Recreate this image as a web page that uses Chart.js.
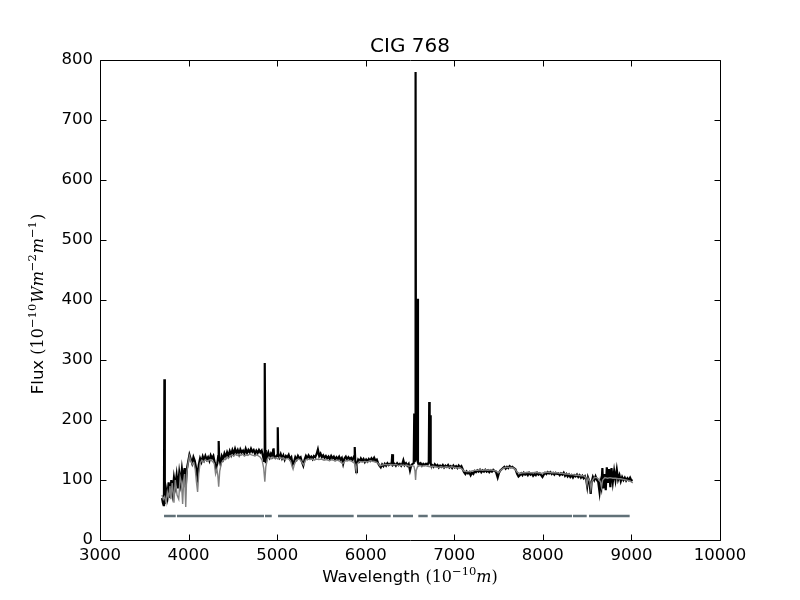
<!DOCTYPE html>
<html>
<head>
<meta charset="utf-8">
<title>CIG 768</title>
<script src="https://cdn.jsdelivr.net/npm/chart.js@4.4.0/dist/chart.umd.min.js"></script>
<style>
  html, body { margin: 0; padding: 0; background: #fff; }
  canvas { display: block; }
</style>
</head>
<body>
<canvas id="canvas" width="800" height="600"></canvas>
<script>
// observed spectrum (black)
const obsWave = [
  3700, 3710, 3718, 3722, 3727, 3732, 3745, 3760, 3775, 3790, 3805, 3820, 3835, 3850, 3865, 3880,
  3895, 3910, 3925, 3940, 3955, 3968, 3980, 3995, 4010, 4025, 4040, 4055, 4070, 4085, 4100, 4115,
  4130, 4145, 4160, 4175, 4190, 4205, 4220, 4235, 4250, 4265, 4280, 4295, 4310, 4325, 4335, 4340,
  4345, 4360, 4375, 4390, 4405, 4420, 4435, 4450, 4465, 4480, 4495, 4510, 4525, 4540, 4555, 4570,
  4585, 4600, 4615, 4630, 4645, 4660, 4675, 4690, 4705, 4720, 4735, 4750, 4765, 4780, 4795, 4810,
  4825, 4840, 4852, 4858, 4862, 4866, 4872, 4885, 4900, 4915, 4930, 4945, 4955, 4960, 4965, 4980,
  4995, 5002, 5007, 5012, 5025, 5040, 5055, 5070, 5085, 5100, 5115, 5130, 5145, 5160, 5175, 5190,
  5205, 5220, 5235, 5250, 5265, 5280, 5295, 5310, 5325, 5340, 5355, 5370, 5385, 5400, 5415, 5430,
  5445, 5460, 5475, 5490, 5505, 5520, 5535, 5550, 5565, 5580, 5595, 5610, 5625, 5640, 5655, 5670,
  5685, 5700, 5715, 5730, 5745, 5760, 5775, 5790, 5805, 5820, 5835, 5850, 5870, 5876, 5882, 5892,
  5900, 5915, 5930, 5945, 5960, 5975, 5990, 6005, 6020, 6035, 6050, 6065, 6080, 6095, 6110, 6125,
  6140, 6155, 6170, 6185, 6200, 6215, 6230, 6245, 6260, 6275, 6292, 6300, 6308, 6325, 6340, 6355,
  6370, 6385, 6400, 6415, 6425, 6440, 6455, 6470, 6485, 6500, 6515, 6530, 6542, 6548, 6553, 6558,
  6563, 6568, 6578, 6584, 6590, 6605, 6620, 6635, 6650, 6665, 6680, 6700, 6712, 6717, 6722, 6726,
  6731, 6736, 6750, 6765, 6780, 6795, 6810, 6825, 6840, 6855, 6870, 6885, 6900, 6915, 6930, 6945,
  6960, 6975, 6990, 7005, 7020, 7035, 7050, 7065, 7080, 7095, 7110, 7125, 7140, 7155, 7170, 7185,
  7200, 7215, 7230, 7245, 7260, 7275, 7290, 7305, 7320, 7335, 7350, 7365, 7380, 7395, 7410, 7425,
  7440, 7455, 7470, 7490, 7505, 7520, 7535, 7550, 7565, 7580, 7595, 7610, 7625, 7640, 7655, 7670,
  7690, 7710, 7725, 7740, 7755, 7770, 7785, 7800, 7815, 7830, 7845, 7860, 7875, 7890, 7905, 7920,
  7935, 7950, 7965, 7980, 7995, 8010, 8025, 8040, 8055, 8070, 8085, 8100, 8115, 8130, 8145, 8160,
  8175, 8190, 8205, 8220, 8235, 8250, 8265, 8280, 8295, 8310, 8325, 8340, 8355, 8370, 8385, 8400,
  8415, 8430, 8445, 8460, 8475, 8490, 8500, 8510, 8525, 8540, 8550, 8565, 8580, 8595, 8610, 8625,
  8640, 8650, 8660, 8672, 8682, 8695, 8710, 8722, 8735, 8748, 8762, 8775, 8790, 8805, 8820, 8835,
  8850, 8865, 8880, 8895, 8910, 8925, 8940, 8955, 8970, 8985, 9000, 9010
];
const obsFlux = [
  70, 62, 58, 65, 268, 60, 85, 72, 96, 70, 100, 80, 104, 90, 108, 86,
  112, 95, 118, 100, 120, 88, 118, 130, 142, 135, 128, 138, 132, 120, 105, 125,
  136, 130, 139, 133, 140, 134, 138, 132, 141, 136, 140, 129, 120, 128, 140, 165,
  138, 127, 140, 135, 144, 138, 146, 140, 148, 142, 150, 144, 152, 145, 150, 143,
  151, 146, 149, 144, 152, 145, 150, 146, 152, 147, 150, 144, 149, 145, 150, 146,
  149, 140, 132, 150, 295, 150, 128, 140, 146, 138, 144, 140, 150, 153, 141, 137,
  140, 142, 188, 140, 137, 143, 136, 141, 134, 140, 138, 142, 135, 138, 126, 130,
  138, 134, 140, 136, 138, 130, 124, 134, 140, 136, 141, 137, 139, 135, 140, 138,
  143, 151, 140, 144, 138, 141, 137, 140, 136, 139, 135, 140, 136, 139, 134, 138,
  135, 139, 134, 137, 127, 136, 139, 134, 138, 135, 137, 133, 140, 155, 132, 113,
  126, 134, 131, 136, 132, 135, 130, 134, 131, 135, 132, 136, 133, 137, 132, 134,
  128, 124, 121, 126, 123, 127, 124, 128, 125, 127, 126, 143, 125, 127, 124, 128,
  125, 127, 124, 128, 133, 125, 128, 124, 127, 116, 125, 127, 128, 211, 130, 135,
  780, 140, 135, 402, 130, 126, 128, 124, 127, 125, 127, 126, 130, 230, 132, 130,
  208, 127, 125, 122, 126, 123, 125, 121, 124, 122, 125, 121, 124, 122, 125, 121,
  123, 120, 124, 121, 123, 120, 124, 121, 123, 118, 113, 110, 114, 111, 113, 108,
  112, 110, 115, 113, 116, 114, 117, 113, 116, 114, 117, 114, 116, 113, 116, 114,
  117, 115, 114, 104, 112, 116, 118, 120, 122, 119, 122, 120, 123, 121, 122, 120,
  118, 110, 106, 108, 111, 108, 112, 109, 111, 108, 112, 109, 111, 107, 110, 108,
  112, 109, 111, 108, 105, 109, 112, 110, 113, 111, 113, 110, 112, 109, 112, 110,
  111, 108, 111, 109, 112, 107, 110, 106, 109, 105, 108, 104, 108, 106, 109, 105,
  108, 104, 107, 103, 106, 100, 90, 104, 98, 77, 96, 105, 100, 106, 100, 97,
  80, 95, 88, 120, 86, 110, 83, 121, 95, 118, 88, 120, 97, 115, 100, 117,
  101, 108, 98, 105, 100, 104, 99, 103, 100, 104, 99, 101
];

// fitted model (grey)
const modelWave = [
  3700, 3715, 3730, 3745, 3760, 3775, 3790, 3800, 3815, 3835, 3850, 3870, 3889, 3905, 3920, 3933,
  3945, 3955, 3968, 3980, 3995, 4010, 4025, 4045, 4060, 4075, 4090, 4102, 4115, 4130, 4150, 4170,
  4190, 4210, 4230, 4250, 4270, 4290, 4305, 4320, 4330, 4340, 4352, 4370, 4390, 4410, 4430, 4450,
  4470, 4490, 4510, 4530, 4550, 4570, 4590, 4610, 4630, 4650, 4670, 4690, 4710, 4730, 4750, 4770,
  4790, 4810, 4830, 4848, 4861, 4872, 4890, 4910, 4930, 4950, 4970, 4990, 5010, 5030, 5050, 5070,
  5090, 5110, 5130, 5150, 5170, 5180, 5195, 5215, 5240, 5265, 5285, 5300, 5320, 5345, 5370, 5395,
  5420, 5445, 5470, 5500, 5530, 5560, 5590, 5620, 5650, 5680, 5710, 5740, 5770, 5800, 5830, 5860,
  5880, 5893, 5905, 5930, 5960, 5990, 6020, 6050, 6080, 6110, 6140, 6160, 6190, 6220, 6250, 6280,
  6310, 6340, 6370, 6400, 6430, 6460, 6490, 6520, 6545, 6556, 6563, 6570, 6585, 6610, 6640, 6670,
  6700, 6730, 6760, 6790, 6820, 6850, 6880, 6910, 6940, 6970, 7000, 7030, 7060, 7090, 7110, 7140,
  7170, 7200, 7230, 7260, 7290, 7320, 7350, 7380, 7410, 7440, 7470, 7500, 7530, 7560, 7590, 7620,
  7650, 7680, 7710, 7740, 7770, 7800, 7830, 7860, 7890, 7920, 7950, 7980, 8010, 8040, 8070, 8100,
  8130, 8160, 8190, 8220, 8250, 8280, 8310, 8340, 8370, 8400, 8430, 8460, 8485, 8498, 8510, 8530,
  8542, 8555, 8580, 8610, 8635, 8650, 8662, 8675, 8700, 8730, 8760, 8790, 8820, 8850, 8880, 8910,
  8940, 8970, 9000, 9015
];
const modelFlux = [
  75, 68, 72, 62, 80, 70, 90, 68, 95, 62, 100, 75, 68, 105, 95, 60,
  100, 110, 55, 112, 128, 140, 132, 126, 128, 118, 95, 80, 110, 128, 133, 130,
  134, 131, 133, 134, 131, 128, 110, 118, 108, 89, 115, 128, 132, 135, 138, 136,
  140, 142, 140, 143, 141, 143, 141, 143, 140, 142, 141, 143, 142, 141, 140, 142,
  140, 138, 133, 120, 97, 122, 135, 138, 135, 138, 136, 137, 135, 138, 136, 137,
  134, 136, 135, 132, 122, 118, 126, 133, 135, 133, 128, 125, 133, 135, 134, 135,
  133, 135, 134, 135, 133, 134, 132, 134, 132, 133, 131, 127, 132, 133, 132, 130,
  126, 115, 127, 131, 130, 131, 130, 132, 131, 130, 128, 124, 125, 126, 125, 126,
  125, 126, 124, 125, 124, 125, 123, 124, 123, 115, 100, 116, 122, 124, 123, 124,
  123, 122, 123, 122, 121, 122, 121, 122, 121, 122, 121, 120, 121, 118, 115, 114,
  114, 115, 116, 116, 117, 116, 117, 116, 117, 116, 115, 112, 117, 120, 121, 121,
  121, 119, 113, 111, 112, 112, 113, 112, 112, 113, 112, 111, 112, 113, 113, 112,
  112, 112, 111, 111, 110, 110, 109, 109, 108, 108, 107, 107, 104, 92, 103, 98,
  85, 98, 104, 104, 101, 97, 88, 100, 104, 103, 104, 103, 103, 102, 102, 101,
  100, 99, 97, 95
];

// masked wavelength ranges drawn as a bar under the spectrum
const maskStart = [3723, 3869, 4863, 5010, 5902, 6308, 6594, 6741, 8340, 8521];
const maskEnd   = [3855, 4852, 4939, 5864, 6282, 6534, 6700, 8329, 8495, 8980];
const maskLevel = 40;

const xMin = 3000, xMax = 10000, xStep = 1000;
const yMin = 0, yMax = 800, yStep = 100;

const toPoints = (xs, ys) => xs.map((x, i) => ({ x: x, y: ys[i] }));

let maskPoints = [];
maskStart.forEach((s, i) => {
  maskPoints.push({ x: s, y: maskLevel });
  maskPoints.push({ x: maskEnd[i], y: maskLevel });
  maskPoints.push({ x: maskEnd[i] + 1, y: null });
});

// draw a run of mixed-font text (for the mathtext style axis labels)
function drawRuns(ctx, runs, cx, cy, rotate) {
  ctx.save();
  ctx.translate(cx, cy);
  if (rotate) ctx.rotate(-Math.PI / 2);
  ctx.textBaseline = 'alphabetic';
  ctx.textAlign = 'left';
  ctx.fillStyle = '#000';
  let total = 0;
  runs.forEach(r => { ctx.font = r.font; total += ctx.measureText(r.text).width + (r.gap || 0); });
  let x = -total / 2;
  runs.forEach(r => {
    ctx.font = r.font;
    ctx.fillText(r.text, x, 6 - (r.up || 0));
    x += ctx.measureText(r.text).width + (r.gap || 0);
  });
  ctx.restore();
}

const SANS = '16.5px "DejaVu Sans"';
const SERIF = '16px "DejaVu Serif"';
const ITAL = 'italic 16px "DejaVu Serif"';
const SUP = '11.5px "DejaVu Serif"';

const xTitle = [
  { text: 'Wavelength ', font: SANS },
  { text: '(10', font: SERIF },
  { text: '\u221210', font: SUP, up: 7 },
  { text: 'm', font: ITAL },
  { text: ')', font: SERIF },
];
const yTitle = [
  { text: 'Flux ', font: SANS },
  { text: '(10', font: SERIF },
  { text: '\u221210', font: SUP, up: 7, gap: 1 },
  { text: 'Wm', font: ITAL },
  { text: '\u22122', font: SUP, up: 7, gap: 1 },
  { text: 'm', font: ITAL },
  { text: '\u22121', font: SUP, up: 7, gap: 1 },
  { text: ')', font: SERIF },
];

// frame with inward ticks on all four sides, plus axis titles
const framePlugin = {
  id: 'frame',
  afterDatasetsDraw(chart) {
    const ctx = chart.ctx;
    const a = chart.chartArea;
    const xs = chart.scales.x, ys = chart.scales.y;
    const L = Math.round(a.left) + 0.5, R = Math.round(a.right) + 0.5;
    const T = Math.round(a.top) + 0.5, B = Math.round(a.bottom) + 0.5;
    const len = 6;
    ctx.save();
    ctx.strokeStyle = '#000';
    ctx.lineWidth = 1;
    ctx.beginPath();
    ctx.rect(L, T, R - L, B - T);
    xs.ticks.forEach(t => {
      const px = Math.round(xs.getPixelForValue(t.value)) + 0.5;
      ctx.moveTo(px, B); ctx.lineTo(px, B - len);
      ctx.moveTo(px, T); ctx.lineTo(px, T + len);
    });
    ys.ticks.forEach(t => {
      const py = Math.round(ys.getPixelForValue(t.value)) + 0.5;
      ctx.moveTo(L, py); ctx.lineTo(L + len, py);
      ctx.moveTo(R, py); ctx.lineTo(R - len, py);
    });
    ctx.stroke();
    ctx.restore();

    drawRuns(ctx, xTitle, (a.left + a.right) / 2, 576, false);
    drawRuns(ctx, yTitle, 37, (a.top + a.bottom) / 2 + 4, true);
  }
};

const ctx = document.getElementById('canvas').getContext('2d');
const chart = new Chart(ctx, {
  type: 'line',
  data: {
    datasets: [
      {
        label: 'model',
        data: toPoints(modelWave, modelFlux),
        borderColor: '#808080',
        borderWidth: 1.4,
        pointRadius: 0,
        tension: 0,
        order: 1,
      },
      {
        label: 'observed',
        data: toPoints(obsWave, obsFlux),
        borderColor: '#000000',
        borderWidth: 2.2,
        pointRadius: 0,
        tension: 0,
        order: 2,
      },
      {
        label: 'mask',
        data: maskPoints,
        borderColor: '#617178',
        borderWidth: 2.5,
        pointRadius: 0,
        spanGaps: false,
        order: 3,
      }
    ]
  },
  options: {
    responsive: false,
    animation: false,
    devicePixelRatio: 1,
    layout: { padding: { left: 0, right: 80, top: 0, bottom: 0 } },
    plugins: {
      legend: { display: false },
      tooltip: { enabled: false },
      title: {
        display: true,
        fullSize: false,
        text: 'CIG 768',
        color: '#000',
        font: { family: 'DejaVu Sans', size: 20, weight: 'normal' },
        padding: { top: 35, bottom: 1 },
      }
    },
    scales: {
      x: {
        type: 'linear',
        min: xMin,
        max: xMax,
        grid: { display: false, drawTicks: false },
        border: { display: false },
        ticks: {
          stepSize: xStep,
          color: '#000',
          padding: 6,
          maxRotation: 0,
          font: { family: 'DejaVu Sans', size: 16.5 },
          callback: (v) => String(v),
        },
        afterFit(scale) { scale.height = 60; },
      },
      y: {
        type: 'linear',
        min: yMin,
        max: yMax,
        grid: { display: false, drawTicks: false },
        border: { display: false },
        ticks: {
          stepSize: yStep,
          color: '#000',
          padding: 7,
          font: { family: 'DejaVu Sans', size: 16.5 },
          callback: (v) => String(v),
        },
        afterFit(scale) { scale.width = 100; },
      }
    }
  },
  plugins: [framePlugin]
});
</script>
</body>
</html>
